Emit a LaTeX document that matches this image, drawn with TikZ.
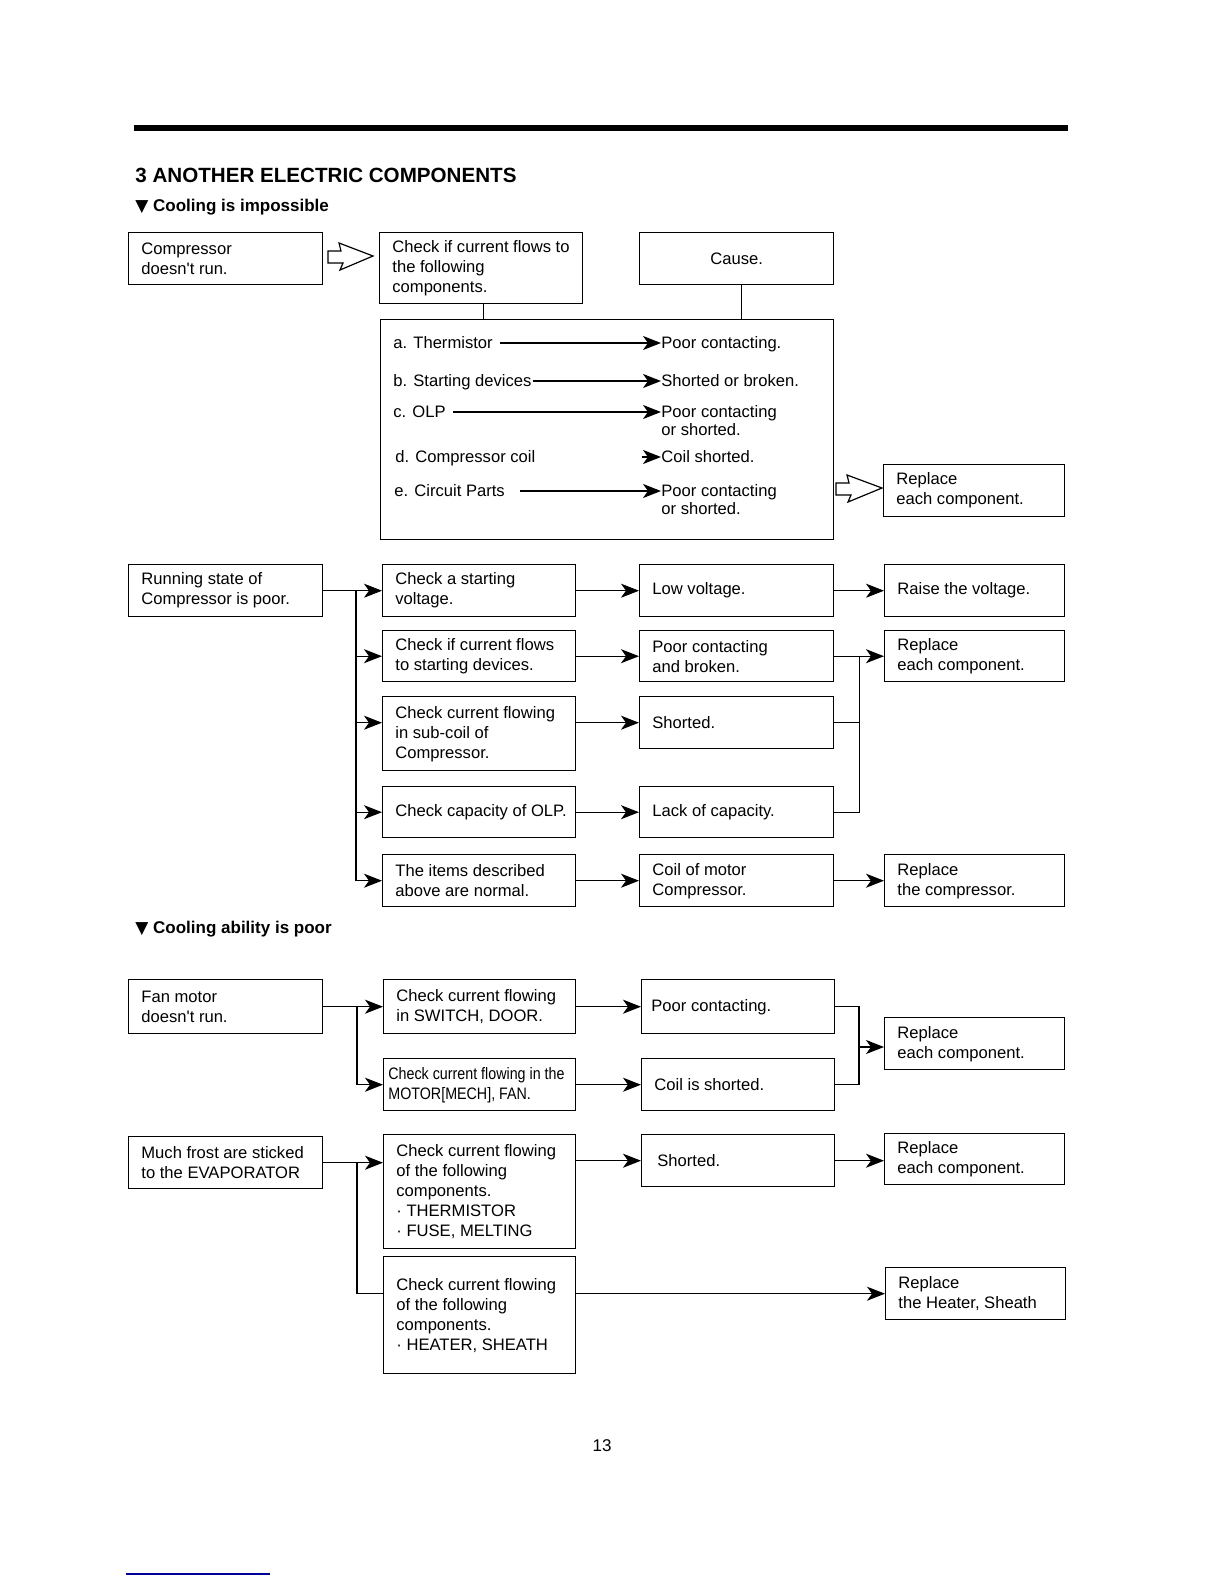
\documentclass[tikz,border=0pt]{standalone}
\usepackage{fontspec}
\setmainfont{Liberation Sans}
\newfontfamily\narrowfont[FakeStretch=0.86]{Liberation Sans}
\newfontfamily\symfont{DejaVu Sans}
\usetikzlibrary{arrows.meta,calc}

\newcommand\boxfont{\fontsize{8.3}{10}\selectfont}
\newcommand\itemfont{\fontsize{8.3}{9}\selectfont}

\tikzset{
  box/.style 2 args={draw, line width=.7pt, anchor=north west, inner sep=0pt,
    minimum width=#1*.5pt, minimum height=#2*.5pt, font=\boxfont},
  txt/.style={anchor=west, xshift=6.5pt, inner sep=0pt, align=left, font=\boxfont},
  item/.style={anchor=base west, inner sep=0pt, align=left, font=\itemfont},
  wire/.style={line width=.7pt},
  arr/.style={wire, -{Stealth[length=9pt, width=7pt, inset=2.5pt]}},
  thinarr/.style={arr, line width=.4pt},
  hollow/.style={line width=.6pt, fill=white, line join=miter},
  head/.style={anchor=west, inner sep=0pt, font=\fontsize{8.5}{10}\selectfont\bfseries}
}

\begin{document}
\begin{tikzpicture}[x=0.5pt, y=-0.5pt]
  \useasboundingbox (0,0) rectangle (1224,1584);

  % --- Kopf ---
  \fill (134,125) rectangle (1068,131);
  \node[anchor=west, inner sep=0pt, font=\fontsize{10.3}{12}\selectfont\bfseries]
    (title) at (135,175) {3 ANOTHER ELECTRIC COMPONENTS};
  \node[head] (head1) at (135,207) {{\symfont ▼} Cooling is impossible};

  % --- Cooling is impossible: Kompressor ---
  \node[box={194}{52}, label={[txt]west:{Compressor\\doesn\textquotesingle t run.}}] (comp) at (128,232) {};
  \node[box={203}{71}, label={[txt]west:{Check if current flows to\\the following\\components.}}] (chk) at (379,232) {};
  \node[box={194}{52}] (cause) at (639,232) {Cause.};
  \node[box={453}{220}] (list) at (380,319) {};
  \node[box={181}{52}, label={[txt]west:{Replace\\each component.}}] (rep) at (883,464) {};

  \draw[wire] ([xshift=1pt]chk.south) -- ([xshift=1pt]chk.south |- list.north);
  \draw[wire] ([xshift=2.5pt]cause.south) -- ([xshift=2.5pt]cause.south |- list.north);

  % Hohlpfeile
  \draw[hollow, shift={(328,257)}] (0,-6) -- (13,-6) -- (11,-14) -- (45,-1)
      -- (12,13) -- (15,6) -- (0,6) -- cycle;
  \draw[hollow, shift={(836,489)}] (0,-6) -- (13,-6) -- (11,-14) -- (46,-1)
      -- (12,13) -- (15,6) -- (0,6) -- cycle;

  % Bauteile und Ursachen (Grundlinie der letzten Zeile)
  \node[item] (ta) at (393,348) {a. Thermistor};
  \node[item] (tb) at (393,386) {b. Starting devices};
  \node[item] (tc) at (393,417) {c. OLP};
  \node[item] (td) at (395,462) {d. Compressor coil};
  \node[item] (te) at (394,496) {e. Circuit Parts};
  \node[item] (pa) at (661,348) {Poor contacting.};
  \node[item] (pb) at (661,386) {Shorted or broken.};
  \node[item] (pc) at (661,435) {Poor contacting\\or shorted.};
  \node[item] (pd) at (661,462) {Coil shorted.};
  \node[item] (pe) at (661,514) {Poor contacting\\or shorted.};

  \draw[arr] ([xshift=3.5pt, yshift=2.5pt]ta.base east) -- ([yshift=2.5pt]pa.base west);
  \draw[arr] ([xshift=.5pt, yshift=2.5pt]tb.base east) -- ([yshift=2.5pt]pb.base west);
  \draw[arr] ([xshift=3.5pt, yshift=2.5pt]tc.base east) -- ([yshift=11.5pt]pc.base west);
  \draw[arr] ([xshift=-9.5pt, yshift=2.5pt]pd.base west) -- ([yshift=2.5pt]pd.base west);
  \draw[arr] ([xshift=7.5pt, yshift=2.5pt]te.base east) -- ([yshift=11.5pt]pe.base west);

  % --- Running state ---
  \node[box={194}{52}, label={[txt]west:{Running state of\\Compressor is poor.}}] (run) at (128,564) {};
  \node[box={193}{52}, label={[txt]west:{Check a starting\\voltage.}}] (c1) at (382,564) {};
  \node[box={193}{51}, label={[txt]west:{Check if current flows\\to starting devices.}}] (c2) at (382,630) {};
  \node[box={193}{74}, label={[txt]west:{Check current flowing\\in sub-coil of\\Compressor.}}] (c3) at (382,696) {};
  \node[box={193}{51}, label={[txt]west:{Check capacity of OLP.}}] (c4) at (382,786) {};
  \node[box={193}{52}, label={[txt]west:{The items described\\above are normal.}}] (c5) at (382,854) {};

  \node[box={194}{52}, label={[txt]west:{Low voltage.}}] (r1) at (639,564) {};
  \node[box={194}{51}, label={[txt]west:{Poor contacting\\and broken.}}] (r2) at (639,630) {};
  \node[box={194}{52}, label={[txt]west:{Shorted.}}] (r3) at (639,696) {};
  \node[box={194}{51}, label={[txt]west:{Lack of capacity.}}] (r4) at (639,786) {};
  \node[box={194}{52}, label={[txt]west:{Coil of motor\\Compressor.}}] (r5) at (639,854) {};

  \node[box={180}{52}, label={[txt]west:{Raise the voltage.}}] (f1) at (884,564) {};
  \node[box={180}{51}, label={[txt]west:{Replace\\each component.}}] (f2) at (884,630) {};
  \node[box={180}{52}, label={[txt]west:{Replace\\the compressor.}}] (f3) at (884,854) {};

  \coordinate (bus1) at (356,590);
  \draw[thinarr] (run.east) -- (c1.west);
  \draw[arr] (bus1) |- (c5.west);
  \draw[arr] (bus1 |- c2.west) -- (c2.west);
  \draw[arr] (bus1 |- r3.west) -- (c3.west |- r3.west);
  \draw[arr] (bus1 |- c4.west) -- (c4.west);

  \draw[thinarr] (c1.east) -- (r1.west);
  \draw[arr] (c2.east) -- (r2.west);
  \draw[arr] (c3.east |- r3.west) -- (r3.west);
  \draw[arr] (c4.east) -- (r4.west);
  \draw[arr] (c5.east) -- (r5.west);

  \coordinate (bus2) at ($(r2.east)!.5!(f2.west)$);
  \draw[thinarr] (r1.east) -- (f1.west);
  \draw[wire] (r4.east) -| (bus2);
  \draw[wire] (r3.east) -- (r3.east -| bus2);
  \draw[arr] (r2.east) -- (f2.west);
  \draw[arr] (r5.east) -- (f3.west);

  % --- Cooling ability is poor ---
  \node[head] (head2) at (135,929) {{\symfont ▼} Cooling ability is poor};

  \node[box={194}{54}, label={[txt]west:{Fan motor\\doesn\textquotesingle t run.}}] (fan) at (128,979) {};
  \node[box={192}{54}, label={[txt]west:{Check current flowing\\in SWITCH, DOOR.}}] (d1) at (383,979) {};
  \node[box={192}{52}, label={[txt, xshift=-4pt, font=\boxfont\narrowfont]west:{Check current flowing in the\\MOTOR[MECH], FAN.}}] (d2) at (383,1058) {};
  \node[box={193}{54}, label={[txt, xshift=-1.5pt]west:{Poor contacting.}}] (e1) at (641,979) {};
  \node[box={193}{52}, label={[txt]west:{Coil is shorted.}}] (e2) at (641,1058) {};
  \node[box={180}{52}, label={[txt]west:{Replace\\each component.}}] (g1) at (884,1017) {};

  \coordinate (bus3) at (357,1006);
  \coordinate (bus4) at (859,1047);
  \draw[arr] (fan.east) -- (d1.west);
  \draw[arr] (bus3) |- (d2.west);
  \draw[arr] (d1.east) -- (e1.west);
  \draw[arr] (d2.east) -- (e2.west);
  \draw[wire] (e1.east) -| (bus4 |- e2.east) -- (e2.east);
  \draw[arr] (bus4) -- (bus4 -| g1.west);

  \node[box={194}{52}, label={[txt]west:{Much frost are sticked\\to the EVAPORATOR}}] (frost) at (128,1136) {};
  \node[box={192}{114}, label={[txt]west:{Check current flowing\\of the following\\components.\\· THERMISTOR\\· FUSE, MELTING}}] (h1) at (383,1134) {};
  \node[box={192}{117}, label={[txt]west:{Check current flowing\\of the following\\components.\\· HEATER, SHEATH}}] (h2) at (383,1256) {};
  \node[box={193}{52}, label={[txt, xshift=1.5pt]west:{Shorted.}}] (i1) at (641,1134) {};
  \node[box={180}{51}, label={[txt]west:{Replace\\each component.}}] (j1) at (884,1133) {};
  \node[box={180}{52}, label={[txt]west:{Replace\\the Heater, Sheath}}] (j2) at (885,1267) {};

  \coordinate (bus5) at (357,1162);
  \draw[arr] (frost.east) -- (frost.east -| h1.west);
  \draw[wire] (bus5) |- (h2.west |- j2.west);
  \draw[arr] (h1.east |- i1.west) -- (i1.west);
  \draw[arr] (i1.east) -- (i1.east -| j1.west);
  \draw[arr] (h2.east |- j2.west) -- (j2.west);

  % --- Fuss ---
  \node[inner sep=0pt, font=\fontsize{8.5}{10}\selectfont] (pagenum) at (602,1446) {13};
  \draw[blue!60!black, line width=.6pt] (126,1574) -- (270,1574);

\end{tikzpicture}
\end{document}
